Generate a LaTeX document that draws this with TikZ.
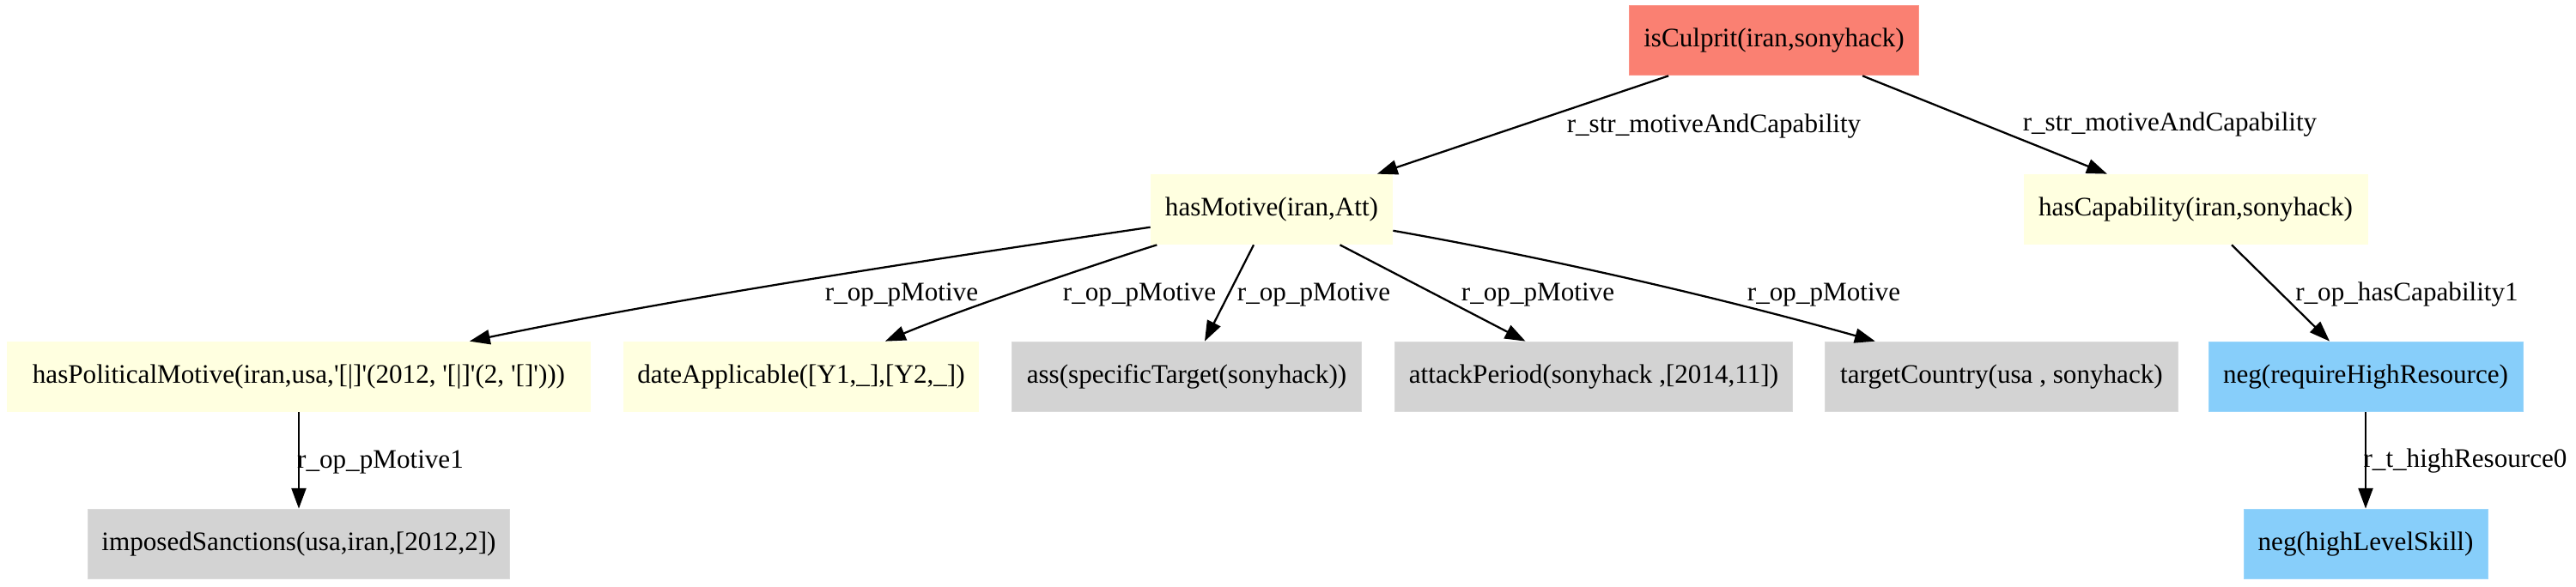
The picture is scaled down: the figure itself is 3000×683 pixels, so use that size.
\documentclass[tikz,border=0pt]{standalone}
\usepackage{fontspec}
\setmainfont{Liberation Serif}
\usetikzlibrary{arrows.meta}
\definecolor{salmonc}{HTML}{FA8072}
\definecolor{lyellow}{HTML}{FFFFE0}
\definecolor{lgray}{HTML}{D3D3D3}
\definecolor{lblue}{HTML}{87CEFA}
\newcommand\sq{\textquotesingle}
\tikzset{
  box/.style={rectangle, minimum height=36pt, inner sep=0pt, font=\fontsize{13.7}{16}\selectfont},
  redbox/.style={box, fill=salmonc, draw=salmonc!85!white},
  yelbox/.style={box, fill=lyellow, draw=lyellow},
  graybox/.style={box, fill=lgray, draw=lgray!85!white},
  bluebox/.style={box, fill=lblue, draw=lblue!85!white},
  edge/.style={draw=black, line width=1pt, -{Triangle[length=10.5pt,width=7.5pt]}},
  lbl/.style={inner sep=0pt, font=\fontsize{13.7}{16}\selectfont}
}
\begin{document}
\begin{tikzpicture}[x=0.44pt,y=-0.44pt]
\useasboundingbox (0,0) rectangle (3000,683);
% nodes
\node[redbox, minimum width=148pt] (ic) at (2066,47) {isCulprit(iran,sonyhack)};
\node[yelbox, minimum width=124pt] (hm) at (1481,244) {hasMotive(iran,Att)};
\node[yelbox, minimum width=176pt] (hc) at (2557,244) {hasCapability(iran,sonyhack)};
\node[yelbox, minimum width=299pt] (hp) at (348,439) {hasPoliticalMotive(iran,usa,\sq[|]\sq(2012, \sq[|]\sq(2, \sq[]\sq)))};
\node[yelbox, minimum width=182pt] (da) at (933,439) {dateApplicable([Y1,\_],[Y2,\_])};
\node[graybox, minimum width=179pt] (as) at (1382,439) {ass(specificTarget(sonyhack))};
\node[graybox, minimum width=204pt] (ap) at (1856,439) {attackPeriod(sonyhack ,[2014,11])};
\node[graybox, minimum width=181pt] (tc) at (2331,439) {targetCountry(usa , sonyhack)};
\node[bluebox, minimum width=161pt] (nr) at (2755,439) {neg(requireHighResource)};
\node[graybox, minimum width=216pt] (is) at (348,634) {imposedSanctions(usa,iran,[2012,2])};
\node[bluebox, minimum width=125pt] (nh) at (2755,634) {neg(highLevelSkill)};
% edges
\draw[edge] (ic) -- (hm);
\draw[edge] (ic) -- (hc);
\draw[edge] (hm) .. controls (1100,300) and (800,345) .. (hp);
\draw[edge] (hm) .. controls (1300,300) and (1120,360) .. (da);
\draw[edge] (hm) -- (as);
\draw[edge] (hm) -- (ap);
\draw[edge] (hm) .. controls (1800,300) and (2000,346) .. (tc);
\draw[edge] (hc) -- (nr);
\draw[edge] (hp) -- (is);
\draw[edge] (nr) -- (nh);
% labels
\node[lbl] (l1) at (1996,147) {r\_str\_motiveAndCapability};
\node[lbl] (l2) at (2527,145) {r\_str\_motiveAndCapability};
\node[lbl] (l3) at (1050,343) {r\_op\_pMotive};
\node[lbl] (l4) at (1327,343) {r\_op\_pMotive};
\node[lbl] (l5) at (1530,343) {r\_op\_pMotive};
\node[lbl] (l6) at (1791,343) {r\_op\_pMotive};
\node[lbl] (l7) at (2124,343) {r\_op\_pMotive};
\node[lbl] (l8) at (2803,343) {r\_op\_hasCapability1};
\node[lbl] (l9) at (2871,537) {r\_t\_highResource0};
\node[lbl] (l10) at (443,538) {r\_op\_pMotive1};
\end{tikzpicture}
\end{document}
